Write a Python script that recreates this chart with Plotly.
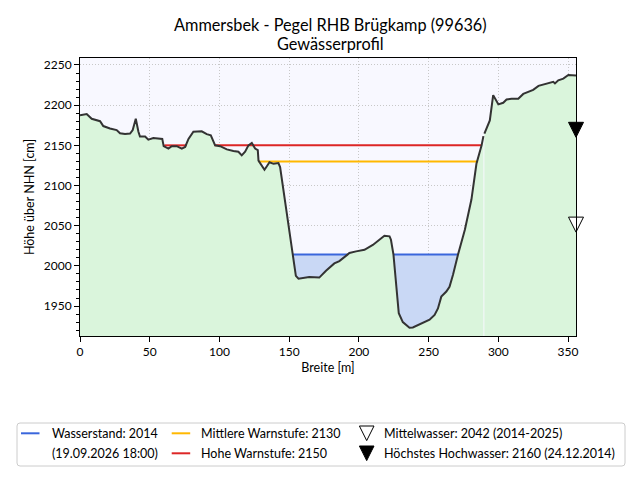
import numpy as np
import plotly.graph_objects as go

# Seite hat 8px Rand im Browser -> Figur etwas kleiner, Koordinaten versetzt
OFF = 8
W, H = 640 - OFF, 480 - OFF
FONT = "Lato"

title_lines = ["Ammersbek - Pegel RHB Brügkamp (99636)", "Gewässerprofil"]
x_title = "Breite [m]"
y_title = "Höhe über NHN [cm]"

# Geländeprofil, linker Teil (bis Böschungsoberkante rechts)
left_x = [0, 4.8, 8.4, 14.4, 16.7, 21.5, 26.3, 28.7, 32.3, 35.9, 37.8, 40, 41.9, 43,
          46.7, 49, 52.6, 56, 59, 60, 63.4, 65.8, 69.4, 73, 75.4, 77.8, 81.3, 87.3,
          90.9, 93.8, 96.9, 100.5, 105.3, 110, 113.6, 116, 118.4, 120.8, 123.2, 125.6,
          127.5, 128, 130.4, 132.3, 134, 135.9, 138.8, 142.3, 143.5, 146, 147.8, 152.4,
          154.8, 156.7, 164.4, 171.6, 176.4, 182.4, 186, 191.8, 193.2, 198, 204, 210,
          214.7, 218.3, 222, 223, 224.8, 226.7, 228.6, 231.5, 236.3, 238.7, 243.5,
          250.7, 254.3, 256.7, 259.1, 262.7, 265, 267.5, 271.1, 276, 280.7, 284.3,
          288, 289.3]
left_y = [2187.5, 2189, 2183, 2180, 2174, 2171, 2169, 2165, 2164, 2164.6, 2169, 2183,
          2167, 2161, 2161, 2157, 2159, 2158, 2158, 2149, 2146, 2149, 2149, 2146, 2148,
          2158, 2167, 2167.5, 2164, 2162.5, 2150, 2149, 2145, 2143, 2142, 2137.5, 2142,
          2150, 2153, 2146, 2144, 2131, 2125, 2119.6, 2124, 2129, 2127, 2128, 2123,
          2094, 2069, 2014, 1987.5, 1984, 1986, 1985.4, 1994, 2003, 2006, 2014, 2016,
          2018, 2020, 2026, 2032.5, 2037.5, 2036.7, 2032.5, 2014, 1978, 1941, 1930,
          1923, 1923.3, 1927.5, 1933, 1939, 1947, 1961.7, 1968, 1974, 1989, 2014,
          2045, 2082.5, 2127, 2150, 2161.5]

# rechter Teil (Vorland rechts)
right_x = [290, 293.9, 296.3, 300, 303.5, 305.9, 309.5, 314.3, 317.9, 325, 328.8,
           336, 339.4, 340.6, 343, 346.6, 350.2, 355.7]
right_y = [2164.6, 2181, 2212.5, 2201, 2203, 2207, 2208, 2208, 2214, 2219, 2224,
           2228, 2229, 2227, 2231, 2233, 2237.5, 2237]

water_level = 2014
warn_mid = 2130
warn_mid_spans = [(128, 285.5)]
warn_high = 2150
warn_high_spans = [(60.5, 76.5), (96.5, 288)]
mean_water = 2042
max_flood = 2160

x_ticks = [0, 50, 100, 150, 200, 250, 300, 350]
y_ticks = [1950, 2000, 2050, 2100, 2150, 2200, 2250]
y_range = [1912.7, 2258.7]

legend_labels = [
    ["Wasserstand: 2014", "(19.09.2026 18:00)"],
    ["Mittlere Warnstufe: 2130", "Hohe Warnstufe: 2150"],
    ["Mittelwasser: 2042 (2014-2025)", "Höchstes Hochwasser: 2160 (24.12.2014)"],
]

GREEN = "#daf5dc"
SKY = "#f8f8ff"
WATER_FILL = "#c9d8f5"
BLUE = "#3a66dc"
YELLOW = "#ffb800"
RED = "#dd2626"
PROFILE = "#333333"


def px(x):
    # Fensterpixel -> paper
    return (x - OFF) / W


def py(y):
    return 1 - (y - OFF) / H


def spans_to_xy(spans, level):
    xs, ys = [], []
    for a, b in spans:
        xs += [a, b, None]
        ys += [level, level, None]
    return xs, ys


fig = go.Figure()

lx = np.array(left_x)
ly = np.array(left_y)

# Gelände (grün)
for xs, ys in [(left_x, left_y), (right_x, right_y)]:
    fig.add_trace(go.Scatter(x=xs, y=ys, mode="lines", fill="tozeroy",
                             fillcolor=GREEN, line=dict(width=0), hoverinfo="skip"))

# Wasserfläche zwischen Gelände und Wasserstand
fig.add_trace(go.Scatter(x=lx, y=np.minimum(ly, water_level), mode="lines",
                         line=dict(width=0), hoverinfo="skip"))
fig.add_trace(go.Scatter(x=lx, y=np.full(len(lx), water_level), mode="lines",
                         fill="tonexty", fillcolor=WATER_FILL, line=dict(width=0),
                         hoverinfo="skip"))

# Warnstufen
for spans, level, color in [(warn_high_spans, warn_high, RED),
                            (warn_mid_spans, warn_mid, YELLOW)]:
    xs, ys = spans_to_xy(spans, level)
    fig.add_trace(go.Scatter(x=xs, y=ys, mode="lines", line=dict(color=color, width=2)))

# Wasserstandslinie nur dort, wo Wasser steht
wl = np.where(ly <= water_level, float(water_level), np.nan)
fig.add_trace(go.Scatter(x=lx, y=wl, mode="lines", line=dict(color=BLUE, width=2)))

# Profil-Linie
for xs, ys in [(left_x, left_y), (right_x, right_y)]:
    fig.add_trace(go.Scatter(x=xs, y=ys, mode="lines",
                             line=dict(color=PROFILE, width=2)))

# Marker am rechten Rand
x_end = right_x[-1]
for val, fill in [(mean_water, "white"), (max_flood, "black")]:
    fig.add_trace(go.Scatter(x=[x_end], y=[val], mode="markers", cliponaxis=False,
                             marker=dict(symbol="arrow-down", size=15, color=fill,
                                         line=dict(color="black", width=1))))

axis_common = dict(showline=True, linecolor="black", linewidth=1, mirror=True,
                   ticks="outside", ticklen=5, tickcolor="black", automargin=False,
                   showgrid=True, gridcolor="#c8c8c8", griddash="1px,2px", gridwidth=1,
                   zeroline=False, tickfont=dict(size=12, color="black"),
                   title_font=dict(size=12.5, color="black"))

fig.update_xaxes(range=[0, x_end], tickvals=x_ticks, domain=[px(80), px(576)],
                 title_text=x_title, title_standoff=4, **axis_common)
fig.update_yaxes(range=y_range, tickvals=y_ticks, domain=[py(336), py(58)],
                 title_text=y_title, title_standoff=6,
                 minor=dict(dtick=10, ticks="outside", ticklen=3, tickcolor="black",
                            showgrid=False),
                 **axis_common)

annotations = []
# Titel, zwei Zeilen
for text, yc in zip(title_lines, [24.5, 43.5]):
    annotations.append(dict(xref="paper", yref="paper", x=px(330), y=py(yc),
                            text=text, showarrow=False, xanchor="center",
                            yanchor="middle", borderpad=0,
                            font=dict(size=16.3, color="black")))

# Legende von Hand (drei Spalten, zwei Zeilen)
shapes = []
bx0, bx1, by0, by1, r = 17, 625, 423, 466, 3
path = (f"M{px(bx0 + r)},{py(by0)} L{px(bx1 - r)},{py(by0)} "
        f"Q{px(bx1)},{py(by0)} {px(bx1)},{py(by0 + r)} L{px(bx1)},{py(by1 - r)} "
        f"Q{px(bx1)},{py(by1)} {px(bx1 - r)},{py(by1)} L{px(bx0 + r)},{py(by1)} "
        f"Q{px(bx0)},{py(by1)} {px(bx0)},{py(by1 - r)} L{px(bx0)},{py(by0 + r)} "
        f"Q{px(bx0)},{py(by0)} {px(bx0 + r)},{py(by0)} Z")
shapes.append(dict(type="path", xref="paper", yref="paper", path=path,
                   line=dict(color="#cccccc", width=1), fillcolor="white"))

rows = [433.3, 453.3]
for (x0, x1, row, color) in [(21, 39.5, rows[0], BLUE), (171.7, 190.2, rows[0], YELLOW),
                             (171.7, 190.2, rows[1], RED)]:
    shapes.append(dict(type="line", xref="paper", yref="paper",
                       x0=px(x0), x1=px(x1), y0=py(row), y1=py(row),
                       line=dict(color=color, width=2)))

tri_cx, half = 366.7, 7.3
for row, fill in [(rows[0], "white"), (rows[1], "black")]:
    t0, t1 = row - 7.3, row + 7.3
    tp = (f"M{px(tri_cx - half)},{py(t0)} L{px(tri_cx + half)},{py(t0)} "
          f"L{px(tri_cx)},{py(t1)} Z")
    shapes.append(dict(type="path", xref="paper", yref="paper", path=tp,
                       fillcolor=fill, line=dict(color="black", width=1)))

for col_x, labels in zip([49.5, 199, 382], legend_labels):
    for row, label in zip(rows, labels):
        annotations.append(dict(xref="paper", yref="paper", x=px(col_x), y=py(row),
                                text=label, showarrow=False, xanchor="left",
                                yanchor="middle", font=dict(size=12.5, color="black")))

fig.update_layout(
    width=W, height=H,
    margin=dict(l=0, r=0, t=0, b=0, autoexpand=False),
    paper_bgcolor="white",
    plot_bgcolor=SKY,
    showlegend=False,
    font=dict(family=FONT, color="black"),
    shapes=shapes,
    annotations=annotations,
)

fig.write_html("out.html")
